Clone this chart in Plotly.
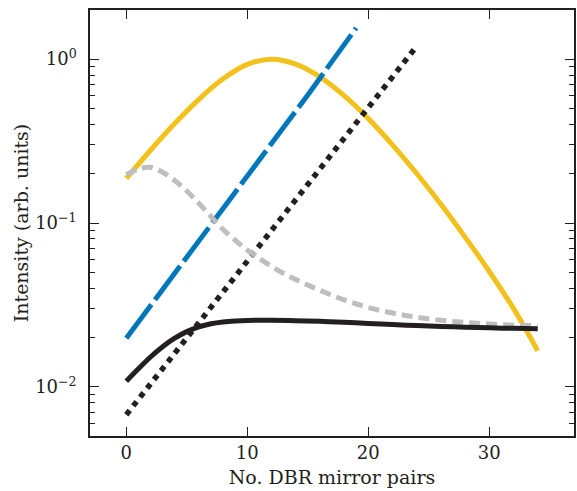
import plotly.graph_objects as go

# ---- data ----
yellow_x = [0, 2, 4, 6, 8, 10, 12, 14, 16, 18, 20, 22, 24, 26, 28, 30, 32, 34]
yellow_y = [0.1871, 0.2780, 0.4046, 0.5689, 0.7586, 0.9290, 1.0, 0.9333, 0.7798,
            0.5984, 0.4335, 0.2999, 0.2004, 0.1300, 0.0820, 0.0506, 0.0301, 0.0166]

blue_x = [0, 5, 10, 15, 19]
blue_y = [0.0198, 0.0617, 0.193, 0.605, 1.55]

dot_x = [0, 5, 10, 15, 20, 24]
dot_y = [0.00676, 0.0200, 0.0589, 0.174, 0.515, 1.20]

black_x = [0, 1, 2, 3, 4, 5, 6, 7, 8, 9, 10, 12, 14, 16, 18, 20, 22, 24, 26, 28, 30, 32, 34]
black_y = [0.01081, 0.01288, 0.01521, 0.01758, 0.01982, 0.02173, 0.02323, 0.02427,
           0.02489, 0.02523, 0.02541, 0.02547, 0.02535, 0.02512, 0.02477, 0.02438,
           0.02399, 0.02366, 0.02339, 0.02312, 0.02291, 0.02275, 0.02265]

gray_x = [0, 1, 2, 3, 4, 5, 6, 7, 8, 9, 10, 12, 14, 16, 18, 20, 22, 24, 26, 28, 30, 32, 34]
gray_y = [0.1972, 0.2138, 0.2188, 0.2042, 0.1820, 0.1567, 0.1318, 0.1096, 0.0912,
          0.0785, 0.0684, 0.0543, 0.0452, 0.0389, 0.0339, 0.0305, 0.0282, 0.0266,
          0.0255, 0.0247, 0.0242, 0.0238, 0.0236]

x_ticks = [0, 10, 20, 30]
y_ticks = [0.01, 0.1, 1]
y_ticklabels = ["10<sup>\u22122</sup>", "10<sup>\u22121</sup>", "10<sup>0</sup>"]
y_minor = [m * d for d in (0.001, 0.01, 0.1, 1) for m in range(2, 10)]

FONT = "DejaVu Serif"
INK = "#231F20"

fig = go.Figure()
fig.add_trace(go.Scatter(x=yellow_x, y=yellow_y, mode="lines", line_shape="spline",
                         line=dict(color="#F2C11C", width=5)))
fig.add_trace(go.Scatter(x=blue_x, y=blue_y, mode="lines",
                         line=dict(color="#0077BB", width=5, dash="42px,6px")))
fig.add_trace(go.Scatter(x=dot_x, y=dot_y, mode="lines",
                         line=dict(color=INK, width=5.5, dash="5.5px,5.7px")))
fig.add_trace(go.Scatter(x=gray_x, y=gray_y, mode="lines", line_shape="spline",
                         line=dict(color="#BEBEBE", width=5, dash="11px,6px")))
fig.add_trace(go.Scatter(x=black_x, y=black_y, mode="lines", line_shape="spline",
                         line=dict(color=INK, width=5)))

fig.update_layout(
    width=577, height=491,
    margin=dict(l=90, r=1, t=10, b=55),
    paper_bgcolor="white", plot_bgcolor="white",
    showlegend=False,
    font=dict(family=FONT, size=18, color=INK),
)
fig.update_xaxes(
    range=[-3, 37], tickmode="array", tickvals=x_ticks,
    ticks="inside", ticklen=9, tickwidth=1.2, tickcolor=INK,
    showline=True, linecolor=INK, linewidth=1.5, mirror="ticks",
    showgrid=False, zeroline=False,
    title=dict(text="No. DBR mirror pairs", standoff=8, font=dict(size=19)),
    tickfont=dict(size=18),
)
fig.update_yaxes(
    type="log", range=[-2.3, 0.3], tickmode="array", tickvals=y_ticks, ticktext=y_ticklabels,
    ticks="inside", ticklen=9, tickwidth=1.2, tickcolor=INK,
    minor=dict(tickmode="array", tickvals=y_minor, ticks="inside", ticklen=5,
               tickwidth=1.2, tickcolor=INK, showgrid=False),
    showline=True, linecolor=INK, linewidth=1.5, mirror="ticks",
    showgrid=False, zeroline=False, ticklabelstandoff=8,
    title=dict(text="Intensity (arb. units)", standoff=2, font=dict(size=19)),
    tickfont=dict(size=18),
)

fig.write_html("out.html")
